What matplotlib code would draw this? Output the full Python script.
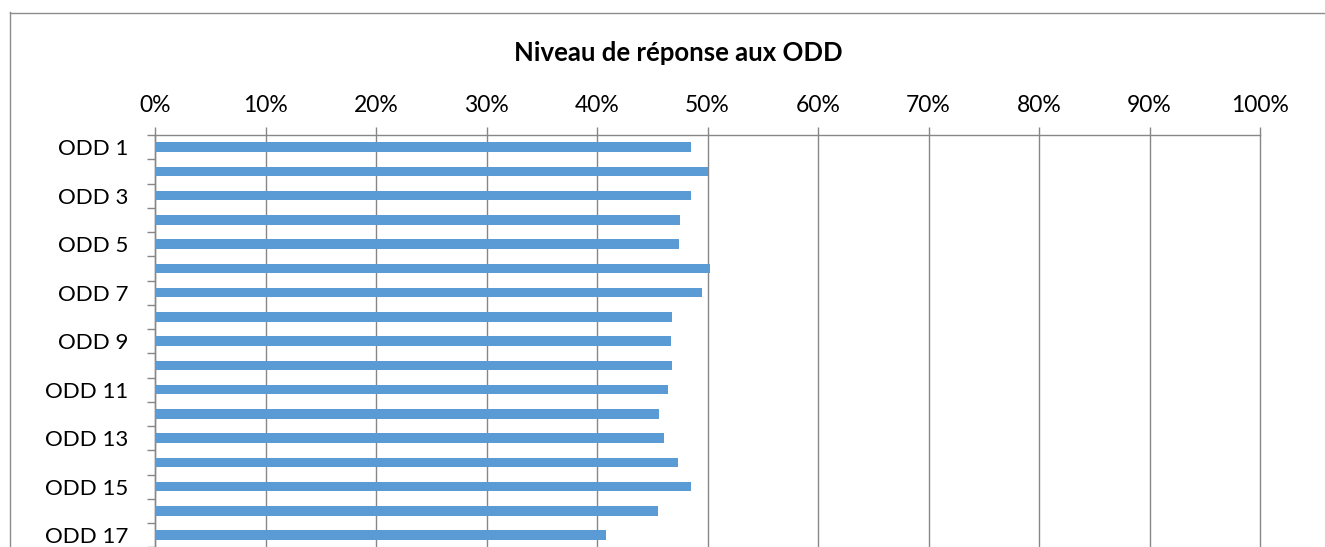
import matplotlib
matplotlib.use("Agg")
import matplotlib.pyplot as plt
from matplotlib.lines import Line2D
from matplotlib.ticker import FixedLocator, PercentFormatter

categories = [f"ODD {i}" for i in range(1, 18)]
values = [48.5, 50.0, 48.5, 47.5, 47.4, 50.2, 49.5, 46.8, 46.7, 46.8,
          46.4, 45.6, 46.1, 47.3, 48.5, 45.5, 40.8]
tick_labels = [c if i % 2 == 0 else "" for i, c in enumerate(categories)]
title = "Niveau de réponse aux ODD"

plt.rcParams['font.family'] = ['Lato', 'DejaVu Sans']

W, H = 1325, 547
fig = plt.figure(figsize=(W / 100, H / 100), dpi=100)

grid_c = "#878787"
bar_c = "#5B9BD5"

ax = fig.add_axes([155 / W, -0.0005, 1105 / W, 412.25 / H])
y = list(range(len(categories)))
ax.barh(y, [v / 100 for v in values], height=0.4, color=bar_c, zorder=3)

ax.set_xlim(0, 1)
ax.set_ylim(len(categories) - 0.5, -0.5)

ax.xaxis.set_major_locator(FixedLocator([i / 10 for i in range(11)]))
ax.xaxis.set_major_formatter(PercentFormatter(1.0, decimals=0))
ax.xaxis.tick_top()
ax.tick_params(axis='x', which='major', direction='out', length=5.8, width=1,
               color=grid_c, labelsize=16.5, pad=8, labelcolor='black')
ax.grid(axis='x', color=grid_c, linewidth=1, zorder=0)
for gl in ax.get_xgridlines():
    gl.set_clip_on(False)

ax.set_yticks(y)
ax.set_yticklabels(tick_labels)
ax.set_yticks([i - 0.5 for i in range(len(categories) + 1)], minor=True)
ax.tick_params(axis='y', which='major', length=0, labelsize=16, pad=27 * 0.72,
               labelcolor='black')
ax.tick_params(axis='y', which='minor', direction='out', length=5.8, width=1,
               color=grid_c)

for s in ['right', 'bottom']:
    ax.spines[s].set_visible(False)
for s in ['top', 'left']:
    ax.spines[s].set_color(grid_c)
    ax.spines[s].set_linewidth(1)

# outer chart border
fig.add_artist(Line2D([10.5 / W, 10.5 / W], [0, 1 - 12 / H], transform=fig.transFigure,
                      color="#8c8c8c", linewidth=1))
fig.add_artist(Line2D([10.5 / W, 1], [1 - 12.5 / H, 1 - 12.5 / H], transform=fig.transFigure,
                      color="#8c8c8c", linewidth=1))

fig.text(678.5 / W, 1 - 53 / H, title, ha='center', va='center',
         fontsize=18.5, fontweight='bold')

fig.savefig("out.png", dpi=100)
